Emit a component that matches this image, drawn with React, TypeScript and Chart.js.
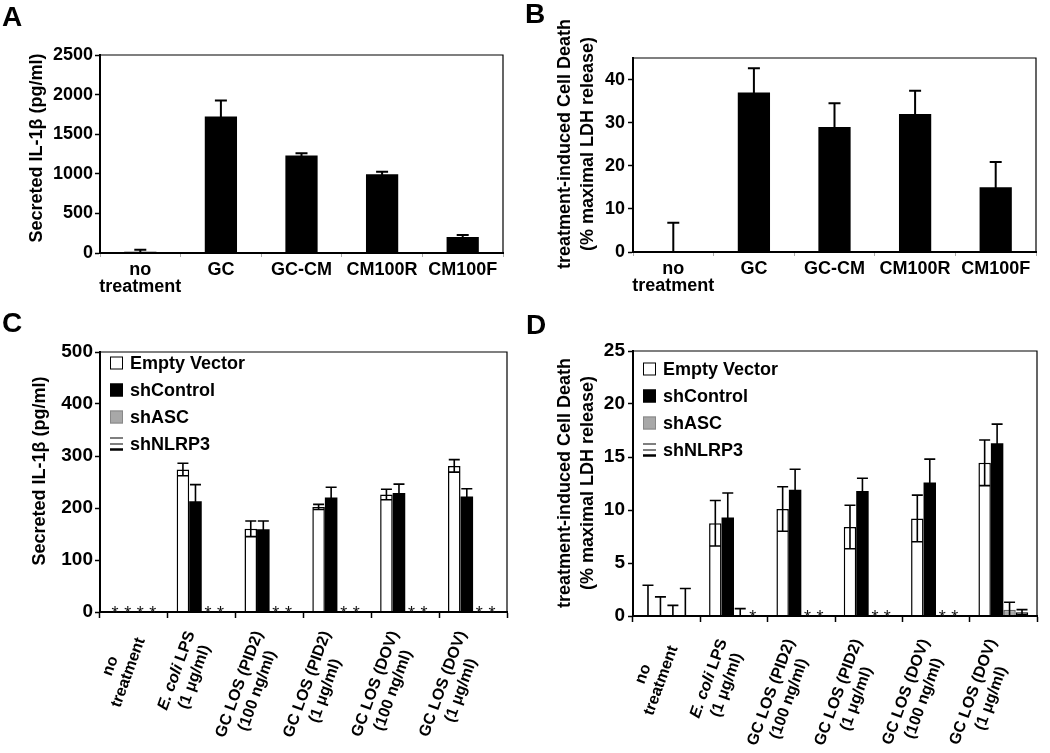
import React, { useEffect, useRef } from 'react';
import { Chart, registerables } from 'chart.js';

Chart.register(...registerables);

const FONT = '"Liberation Sans", Arial, Helvetica, sans-serif';

// ---------------- Data ----------------
// Panels A & B
const abCategories: (string | string[])[] = [['no', 'treatment'], 'GC', 'GC-CM', 'CM100R', 'CM100F'];
const aValues = [15, 1725, 1232, 995, 202];
const aErrors = [25, 200, 28, 30, 25];
const bValues = [0, 37, 29, 32, 15];
const bErrors = [6.8, 5.6, 5.5, 5.4, 5.9];

// Panels C & D
const cdCategories: string[][] = [
  ['no', 'treatment'],
  ['E. coli LPS', '(1 μg/ml)'],
  ['GC LOS (PID2)', '(100 ng/ml)'],
  ['GC LOS (PID2)', '(1 μg/ml)'],
  ['GC LOS (DOV)', '(100 ng/ml)'],
  ['GC LOS (DOV)', '(1 μg/ml)'],
];
const seriesNames = ['Empty Vector', 'shControl', 'shASC', 'shNLRP3'];

// null = not detected (marked with an asterisk)
const cEmptyVector = [null, 274, 160, 202, 226, 281];
const cEmptyVectorErr = [0, 12, 15, 5, 10, 12];
const cShControl = [null, 213, 159, 220, 229, 222];
const cShControlErr = [0, 32, 16, 20, 17, 15];
const cShASC = [null, null, null, null, null, null];
const cShASCErr = [0, 0, 0, 0, 0, 0];
const cShNLRP3 = [null, null, null, null, null, null];
const cShNLRP3Err = [0, 0, 0, 0, 0, 0];

const dEmptyVector = [0, 8.75, 10.1, 8.4, 9.2, 14.45];
const dEmptyVectorErr = [2.9, 2.15, 2.1, 2.05, 2.2, 2.15];
const dShControl = [0, 9.3, 11.9, 11.8, 12.6, 16.3];
const dShControlErr = [1.8, 2.3, 1.95, 1.2, 2.2, 1.8];
const dShASC = [0, 0.1, null, null, null, 0.6];
const dShASCErr = [1.0, 0.6, 0, 0, 0, 0.7];
const dShNLRP3 = [0, null, null, null, null, 0.35];
const dShNLRP3Err = [2.6, 0, 0, 0, 0, 0.25];

// ---------------- Helpers ----------------
function barCenter(chart: any, di: number, i: number) {
  const xs = chart.scales.x;
  const n = chart.data.labels.length;
  const nd = chart.data.datasets.length;
  const ds = chart.data.datasets[di];
  const cp = ds.categoryPercentage ?? 0.8;
  const cat = (xs.right - xs.left) / n;
  const group = cat * cp;
  const slot = group / nd;
  return xs.getPixelForValue(i) - group / 2 + slot * (di + 0.5);
}

function framePlugin() {
  return {
    id: 'frame',
    afterDatasetsDraw(chart: any) {
      const { ctx, chartArea: a } = chart;
      ctx.save();
      ctx.strokeStyle = '#000';
      ctx.lineWidth = 1.2;
      ctx.beginPath();
      ctx.moveTo(a.left, a.top);
      ctx.lineTo(a.right, a.top);
      ctx.lineTo(a.right, a.bottom);
      ctx.stroke();
      ctx.lineWidth = 2;
      ctx.beginPath();
      ctx.moveTo(a.left, a.top);
      ctx.lineTo(a.left, a.bottom);
      ctx.lineTo(a.right, a.bottom);
      ctx.stroke();
      ctx.restore();
    },
  };
}

function errorBarsPlugin(lineWidth: number, cap: number) {
  return {
    id: 'errorBars',
    afterDatasetsDraw(chart: any) {
      const ys = chart.scales.y;
      const ctx = chart.ctx;
      chart.data.datasets.forEach((ds: any, di: number) => {
        const errs = ds.errors;
        if (!errs) return;
        ds.data.forEach((v: number | null, i: number) => {
          if (v == null || !errs[i]) return;
          const x = barCenter(chart, di, i);
          const hi = ys.getPixelForValue(v + errs[i]);
          const loV = v - errs[i];
          const lo = ys.getPixelForValue(Math.max(loV, ys.min));
          ctx.save();
          ctx.strokeStyle = '#000';
          ctx.lineWidth = lineWidth;
          ctx.beginPath();
          ctx.moveTo(x, lo);
          ctx.lineTo(x, hi);
          ctx.moveTo(x - cap / 2, hi);
          ctx.lineTo(x + cap / 2, hi);
          if (loV > ys.min) {
            ctx.moveTo(x - cap / 2, lo);
            ctx.lineTo(x + cap / 2, lo);
          }
          ctx.stroke();
          ctx.restore();
        });
      });
    },
  };
}

function starsPlugin() {
  return {
    id: 'stars',
    afterDatasetsDraw(chart: any) {
      const ctx = chart.ctx;
      const base = chart.chartArea.bottom;
      ctx.save();
      ctx.fillStyle = '#111';
      ctx.font = `18px ${FONT}`;
      ctx.textAlign = 'center';
      ctx.textBaseline = 'alphabetic';
      chart.data.datasets.forEach((ds: any, di: number) => {
        ds.data.forEach((v: number | null, i: number) => {
          if (v !== null) return;
          const x = barCenter(chart, di, i);
          ctx.fillText('*', x, base + 7);
        });
      });
      ctx.restore();
    },
  };
}

function yTitlePlugin(lines: string[], xs: number[], cy: number, size: number) {
  return {
    id: 'yTitle',
    afterDraw(chart: any) {
      const ctx = chart.ctx;
      ctx.save();
      ctx.fillStyle = '#000';
      ctx.font = `bold ${size}px ${FONT}`;
      ctx.textAlign = 'center';
      ctx.textBaseline = 'middle';
      lines.forEach((line, k) => {
        ctx.save();
        ctx.translate(xs[k], cy);
        ctx.rotate(-Math.PI / 2);
        ctx.fillText(line, 0, 0);
        ctx.restore();
      });
      ctx.restore();
    },
  };
}

function drawMixedLine(ctx: CanvasRenderingContext2D, text: string, cx: number, cy: number, size: number) {
  const parts: [string, string][] = [];
  if (text.startsWith('E. coli')) {
    parts.push(['E. coli', `italic bold ${size}px ${FONT}`]);
    parts.push([text.slice(7), `bold ${size}px ${FONT}`]);
  } else {
    parts.push([text, `bold ${size}px ${FONT}`]);
  }
  let total = 0;
  const widths = parts.map(([t, f]) => {
    ctx.font = f;
    const w = ctx.measureText(t).width;
    total += w;
    return w;
  });
  let x = cx - total / 2;
  ctx.textAlign = 'left';
  parts.forEach(([t, f], k) => {
    ctx.font = f;
    ctx.fillText(t, x, cy);
    x += widths[k];
  });
  return total;
}

function rotatedLabelsPlugin(angle: number, offset: number, size: number, lh: number, dx: number) {
  return {
    id: 'rotLabels',
    afterDraw(chart: any) {
      const ctx = chart.ctx;
      const xs = chart.scales.x;
      const labels = chart.data.labels as string[][];
      ctx.save();
      ctx.fillStyle = '#000';
      ctx.textBaseline = 'middle';
      labels.forEach((lines, i) => {
        const cx = xs.getPixelForValue(i) + dx;
        const cy = chart.chartArea.bottom + offset;
        let maxW = 0;
        lines.forEach((l) => {
          ctx.font = `bold ${size}px ${FONT}`;
          maxW = Math.max(maxW, ctx.measureText(l).width);
        });
        ctx.save();
        ctx.translate(cx, cy);
        ctx.rotate((-angle * Math.PI) / 180);
        lines.forEach((l, j) => {
          drawMixedLine(ctx, l, -maxW / 2, (j - (lines.length - 1) / 2) * lh, size);
        });
        ctx.restore();
      });
      ctx.restore();
    },
  };
}

function legendPlugin(top: number, styles: string[]) {
  return {
    id: 'panelLegend',
    afterDraw(chart: any) {
      const ctx = chart.ctx;
      const a = chart.chartArea;
      ctx.save();
      seriesNames.forEach((name, k) => {
        const yc = a.top + top + 27 * k;
        const bx = a.left + 10;
        const s = 13;
        const st = styles[k];
        if (st === 'lines') {
          ctx.strokeStyle = '#000';
          ctx.lineWidth = 1.2;
          ctx.beginPath();
          ctx.moveTo(bx, yc - 6);
          ctx.lineTo(bx + s, yc - 6);
          ctx.moveTo(bx, yc);
          ctx.lineTo(bx + s, yc);
          ctx.stroke();
          ctx.lineWidth = 2.5;
          ctx.beginPath();
          ctx.moveTo(bx, yc + 5.5);
          ctx.lineTo(bx + s, yc + 5.5);
          ctx.stroke();
        } else {
          ctx.fillStyle = st;
          ctx.fillRect(bx, yc - s / 2, s, s);
          ctx.strokeStyle = st === '#a8a8a8' ? '#888' : '#000';
          ctx.lineWidth = 1;
          ctx.strokeRect(bx + 0.5, yc - s / 2 + 0.5, s - 1, s - 1);
        }
        ctx.fillStyle = '#000';
        ctx.font = `bold 18px ${FONT}`;
        ctx.textAlign = 'left';
        ctx.textBaseline = 'middle';
        ctx.fillText(name, a.left + 30, yc + 1);
      });
      ctx.restore();
    },
  };
}

function hatchPattern(): CanvasPattern | string {
  const c = document.createElement('canvas');
  c.width = 6;
  c.height = 4;
  const g = c.getContext('2d');
  if (!g) return '#fff';
  g.fillStyle = '#fff';
  g.fillRect(0, 0, 6, 4);
  g.fillStyle = '#000';
  g.fillRect(0, 0, 6, 1.5);
  return g.createPattern(c, 'repeat') || '#fff';
}

type Geom = { padLeft: number; padTop: number; padRight: number; yWidth: number; xHeight: number };

function yAxis(max: number, step: number, size: number, padding: number, geom: Geom, cb?: (v: number) => string) {
  return {
    type: 'linear',
    min: 0,
    max,
    grid: { drawOnChartArea: false, drawTicks: true, tickLength: 5, tickWidth: 1.5, tickColor: '#000' },
    border: { display: true, color: '#000', width: 2 },
    ticks: {
      stepSize: step,
      color: '#000',
      padding,
      font: { family: FONT, size, weight: 'bold' },
      callback: cb ? (v: any) => cb(Number(v)) : (v: any) => String(v),
    },
    afterFit: (s: any) => {
      s.width = geom.yWidth;
    },
  };
}

function simpleConfig(values: number[], errors: number[], max: number, step: number, geom: Geom, titlePlugin: any, cb?: (v: number) => string, tickPad = 2) {
  return {
    type: 'bar',
    data: {
      labels: abCategories,
      datasets: [
        {
          data: values,
          errors,
          backgroundColor: '#000',
          borderWidth: 0,
          categoryPercentage: 0.4,
          barPercentage: 1,
        },
      ],
    },
    options: {
      responsive: false,
      animation: false,
      layout: { padding: { left: geom.padLeft, top: geom.padTop, right: geom.padRight, bottom: 0 } },
      scales: {
        x: {
          type: 'category',
          offset: true,
          grid: { offset: true, drawOnChartArea: false, drawTicks: true, tickLength: 4, tickWidth: 1, tickColor: '#aaa' },
          border: { display: true, color: '#000', width: 2 },
          ticks: {
            color: '#000',
            padding: 4,
            maxRotation: 0,
            minRotation: 0,
            autoSkip: false,
            font: { family: FONT, size: 18, weight: 'bold', lineHeight: 0.98 },
          },
          afterFit: (s: any) => {
            s.height = geom.xHeight;
          },
        },
        y: yAxis(max, step, 18, tickPad, geom, cb),
      },
      plugins: { legend: { display: false }, tooltip: { enabled: false } },
    },
    plugins: [framePlugin(), errorBarsPlugin(2, 12), titlePlugin],
  };
}

function groupedConfig(series: (number | null)[][], errs: number[][], max: number, step: number, geom: Geom, titlePlugin: any, legendTop: number, tickPad: number, labelOffset: number) {
  const fills: any[] = ['#fff', '#000', '#a8a8a8', hatchPattern()];
  const borders = ['#000', '#000', '#666', '#000'];
  return {
    type: 'bar',
    data: {
      labels: cdCategories,
      datasets: series.map((d, k) => ({
        label: seriesNames[k],
        data: d,
        errors: errs[k],
        backgroundColor: fills[k],
        borderColor: borders[k],
        borderWidth: k === 1 ? 0 : 1.5,
        categoryPercentage: 0.74,
        barPercentage: 1,
      })),
    },
    options: {
      responsive: false,
      animation: false,
      layout: { padding: { left: geom.padLeft, top: geom.padTop, right: geom.padRight, bottom: 0 } },
      scales: {
        x: {
          type: 'category',
          offset: true,
          grid: { offset: true, drawOnChartArea: false, drawTicks: true, tickLength: 6, tickWidth: 1.5, tickColor: '#000' },
          border: { display: true, color: '#000', width: 2 },
          ticks: { display: false, autoSkip: false },
          afterFit: (s: any) => {
            s.height = geom.xHeight;
          },
        },
        y: yAxis(max, step, 19, tickPad, geom),
      },
      plugins: { legend: { display: false }, tooltip: { enabled: false } },
    },
    plugins: [
      framePlugin(),
      errorBarsPlugin(1.6, 11),
      starsPlugin(),
      rotatedLabelsPlugin(70, labelOffset, 16, 19, -2),
      legendPlugin(legendTop, ['#fff', '#000', '#a8a8a8', 'lines']),
      titlePlugin,
    ],
  };
}

function ChartCanvas({ left, top, width, height, make }: { left: number; top: number; width: number; height: number; make: () => any }) {
  const ref = useRef<HTMLCanvasElement | null>(null);
  useEffect(() => {
    if (!ref.current) return;
    const chart = new Chart(ref.current, make());
    return () => chart.destroy();
  }, []);
  return (
    <canvas
      ref={ref}
      width={width}
      height={height}
      style={{ position: 'absolute', left, top, width, height }}
    />
  );
}

const letterStyle: React.CSSProperties = {
  position: 'absolute',
  fontFamily: FONT,
  fontWeight: 'bold',
  fontSize: 28,
  lineHeight: '28px',
  color: '#000',
};

export default function App() {
  return (
    <div style={{ position: 'absolute', left: 0, top: 0, width: 1050, height: 753, background: '#fff', overflow: 'hidden' }}>
      <ChartCanvas
        left={0}
        top={0}
        width={525}
        height={300}
        make={() =>
          simpleConfig(
            aValues,
            aErrors,
            2500,
            500,
            { padLeft: 0, padTop: 55, padRight: 22, yWidth: 100, xHeight: 47 },
            yTitlePlugin(['Secreted IL-1β (pg/ml)'], [37], 148, 18)
          )
        }
      />
      <ChartCanvas
        left={525}
        top={0}
        width={525}
        height={300}
        make={() =>
          simpleConfig(
            bValues,
            bErrors,
            45,
            5,
            { padLeft: 0, padTop: 58, padRight: 14, yWidth: 108, xHeight: 48 },
            yTitlePlugin(['treatment-induced Cell Death', '(% maximal LDH release)'], [40, 63], 144, 18),
            (v) => (v % 10 === 0 ? String(v) : ''),
            3
          )
        }
      />
      <ChartCanvas
        left={0}
        top={310}
        width={525}
        height={443}
        make={() =>
          groupedConfig(
            [cEmptyVector, cShControl, cShASC, cShNLRP3],
            [cEmptyVectorErr, cShControlErr, cShASCErr, cShNLRP3Err],
            500,
            100,
            { padLeft: 0, padTop: 42, padRight: 18, yWidth: 100, xHeight: 141 },
            yTitlePlugin(['Secreted IL-1β (pg/ml)'], [40], 161, 18),
            11,
            2,
            23
          )
        }
      />
      <ChartCanvas
        left={525}
        top={310}
        width={525}
        height={443}
        make={() =>
          groupedConfig(
            [dEmptyVector, dShControl, dShASC, dShNLRP3],
            [dEmptyVectorErr, dShControlErr, dShASCErr, dShNLRP3Err],
            25,
            5,
            { padLeft: 0, padTop: 41, padRight: 13, yWidth: 108, xHeight: 137 },
            yTitlePlugin(['treatment-induced Cell Death', '(% maximal LDH release)'], [40, 63], 173, 18),
            18,
            3,
            27
          )
        }
      />
      <div style={{ ...letterStyle, left: 2, top: 3 }}>A</div>
      <div style={{ ...letterStyle, left: 525, top: 0 }}>B</div>
      <div style={{ ...letterStyle, left: 2, top: 309 }}>C</div>
      <div style={{ ...letterStyle, left: 526, top: 311 }}>D</div>
    </div>
  );
}
